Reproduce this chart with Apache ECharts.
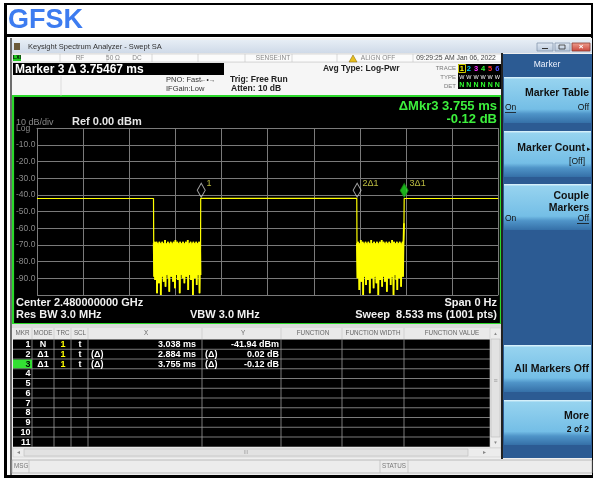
<!DOCTYPE html>
<html><head><meta charset="utf-8">
<script src="https://cdn.jsdelivr.net/npm/echarts@6/dist/echarts.min.js"></script>
<style>html,body{margin:0;padding:0;background:#fff}#c{width:594px;height:478px}</style>
</head><body><div id="c"></div>
<script>
// ---------------- data ----------------
const sweepMs = 8.533;
const yTicksDb = [0, -10, -20, -30, -40, -50, -60, -70, -80, -90, -100];
const onLevelDb = [-42.1, -42.0, -42.1];
const fallMs = [2.155, 5.915];
const riseMs = [3.028, 6.792];
const burst1Db = [
 -69,-89,-68,-91,-70,-88,-68,-99,-69,-89,-70,-93,-68,-87,-69,-100,-71,-89,-68,-88,
 -69,-92,-70,-89,-67,-95,-69,-88,-70,-87,-68,-90,-69,-98,-70,-88,-68,-89,-69,-87,
 -70,-92,-68,-89,-69,-96,-67,-88,-70,-87,-68,-91,-69,-88,-70,-99,-68,-88,-69,-87,
 -70,-90,-68,-89,-69,-93,-70,-88,-68,-89,-69,-87,-67,-97,-70,-88,-69,-88,-68,-91,
 -70,-89,-69,-100,-68,-87,-69,-90,-70,-88,-68,-94,-69,-88,-70,-87,-68,-99,-69,-88
];
const burst2Db = [
 -69,-90,-68,-88,-70,-97,-69,-89,-67,-92,-70,-87,-68,-100,-69,-89,-70,-88,-68,-94,
 -69,-88,-70,-91,-68,-89,-69,-99,-70,-87,-67,-90,-69,-89,-70,-96,-68,-89,-69,-88,
 -70,-93,-68,-89,-69,-100,-70,-88,-68,-91,-69,-88,-67,-95,-70,-89,-68,-88,-69,-92,
 -70,-87,-68,-98,-69,-89,-70,-90,-68,-88,-69,-94,-70,-89,-67,-89,-69,-100,-68,-88,
 -70,-88,-69,-91,-68,-97,-70,-89,-69,-90,-68,-88,-69,-95,-70,-88,-68,-89,-69,-57
];
const markerNames = ['1', '2', '3'];
const markerModes = ['N', 'Δ1', 'Δ1'];
const markerTrace = ['1', '1', '1'];
const markerScale = ['t', 't', 't'];
const markerXms = [3.038, 2.884, 3.755];      // marker 1 absolute, others delta to marker 1
const markerYdb = [-41.94, 0.02, -0.12];
const markerXText = ['3.038 ms', '2.884 ms', '3.755 ms'];
const markerYText = ['-41.94 dBm', '0.02 dB', '-0.12 dB'];
const markerLabels = ['1', '2Δ1', '3Δ1'];
const tableRows = ['1','2','3','4','5','6','7','8','9','10','11'];
const tableHeaders = ['MKR','MODE','TRC','SCL','X','Y','FUNCTION','FUNCTION WIDTH','FUNCTION VALUE'];

// ---------------- build trace ----------------
const trace = [];
const bursts = [[], []];
function addBurst(k, arr) {
  const s = fallMs[k] + 0.004, e = riseMs[k] - 0.004, n = arr.length;
  arr.forEach((v, i) => { const p = [s + i * (e - s) / (n - 1), v]; trace.push(p); bursts[k].push(p); });
}
trace.push([0, onLevelDb[0]], [fallMs[0], onLevelDb[0]]);
addBurst(0, burst1Db);
trace.push([riseMs[0], onLevelDb[1]], [fallMs[1], onLevelDb[1]]);
addBurst(1, burst2Db);
trace.push([riseMs[1], onLevelDb[2]], [sweepMs, onLevelDb[2]]);

const markerPts = markerXms.map((x, i) => i === 0 ? [x, markerYdb[0]] : [markerXms[0] + x, markerYdb[0] + markerYdb[i]]);

// ---------------- chrome helpers ----------------
const F = '"Liberation Sans", Arial, sans-serif';
const G = [];
function rect(x, y, w, h, fill, stroke, lw, z) {
  G.push({type: 'rect', shape: {x, y, width: w, height: h}, style: {fill: fill || 'none', stroke: stroke || null, lineWidth: lw || 0}, z: z == null ? -5 : z, silent: true});
}
function ln(x1, y1, x2, y2, stroke, lw, z) {
  G.push({type: 'line', shape: {x1, y1, x2, y2}, style: {stroke, lineWidth: lw || 1}, z: z == null ? -4 : z, silent: true});
}
function tx(x, y, str, size, fill, opt) {
  opt = opt || {};
  G.push({type: 'text', x, y, style: {text: str, font: (opt.bold ? 'bold ' : '') + size + 'px ' + F, fill, textAlign: opt.align || 'left', textVerticalAlign: 'middle'}, z: opt.z == null ? 10 : opt.z, silent: true});
}
const grad = (stops) => ({type: 'linear', x: 0, y: 0, x2: 0, y2: 1, colorStops: stops.map(s => ({offset: s[0], color: s[1]}))});

// outer frame / title
tx(8, 21, 'GFSK', 27, '#3d7cf0', {bold: true});
rect(4, 3, 589, 2, '#000');
rect(4, 3, 3, 475, '#000');
rect(4, 34, 589, 3, '#000');
rect(591, 3, 2, 475, '#000');
rect(4, 475, 589, 3, '#000');

// window
rect(10, 38, 582, 437, '#efefef');
rect(10, 38, 2, 437, '#6d6d6d');
rect(12, 40, 580, 13, grad([[0, '#e6edf5'], [1, '#cfdae8']]));
rect(14, 43, 6, 7, '#6b5a3a');
tx(28, 47, 'Keysight Spectrum Analyzer - Swept SA', 7.5, '#333');
rect(537, 43, 16, 8, grad([[0, '#e3ebf5'], [1, '#b8c7da']]), '#8797ad', 0.8);
rect(555, 43, 15, 8, grad([[0, '#e3ebf5'], [1, '#b8c7da']]), '#8797ad', 0.8);
rect(572, 43, 18, 8, grad([[0, '#f0a090'], [1, '#c8443a']]), '#8a3a30', 0.8);
ln(542, 48.5, 548, 48.5, '#333', 1, -3);
rect(559, 45, 6, 4, null, '#333', 0.8, -3);
tx(581, 47, '×', 8, '#fff', {align: 'center', bold: true});

// status row
rect(12, 54, 490, 8, '#fbfbfb', '#c4c4c4', 0.6);
[60, 107, 152, 198, 245, 292, 337, 413].forEach(x => ln(x, 54, x, 62, '#c4c4c4', 0.6));
rect(13, 55, 8, 6, '#22cc22');
tx(17, 58, 'LXI', 5, '#000', {align: 'center', bold: true});
tx(80, 58.3, 'RF', 6.5, '#888', {align: 'center'});
tx(113, 58.3, '50 Ω', 6.5, '#888', {align: 'center'});
tx(137, 58.3, 'DC', 6.5, '#888', {align: 'center'});
tx(273, 58.3, 'SENSE:INT', 6.5, '#888', {align: 'center'});
G.push({type: 'polygon', shape: {points: [[353, 55], [349, 62], [357, 62]]}, style: {fill: '#e8c020', stroke: '#806000', lineWidth: 0.5}, z: 5, silent: true});
tx(378, 58.3, 'ALIGN OFF', 6.5, '#888', {align: 'center'});
tx(456, 58.3, '09:29:25 AM Jan 06, 2022', 6.8, '#444', {align: 'center'});

// header info
rect(12, 63, 490, 33, '#f6f6f6');
rect(13, 63, 211, 12, '#000');
tx(15, 69.5, 'Marker 3 Δ 3.75467 ms', 12, '#fff', {bold: true});
ln(61, 76, 61, 96, '#cfcfcf', 0.6);
tx(166, 80, 'PNO: Fast', 7.5, '#333');
tx(200, 80, '←•→', 6.5, '#333');
tx(166, 88.5, 'IFGain:Low', 7.5, '#333');
tx(230, 79.5, 'Trig: Free Run', 8.5, '#222', {bold: true});
tx(231, 88.5, 'Atten: 10 dB', 8.5, '#222', {bold: true});
tx(323, 69, 'Avg Type: Log-Pwr', 8.5, '#222', {bold: true});
tx(456, 68, 'TRACE', 6, '#777', {align: 'right'});
tx(456, 77, 'TYPE', 6, '#777', {align: 'right'});
tx(456, 86, 'DET', 6, '#777', {align: 'right'});
rect(458, 64, 43, 25, '#000');
const traceColors = ['#ffff00', '#00d0ff', '#ff30ff', '#30ff30', '#ff3030', '#5050ff'];
rect(458.5, 64.5, 7, 8, null, '#ffff00', 0.8, 6);
traceColors.forEach((c, i) => {
  const x = 461.8 + i * 7.1;
  tx(x, 68.5, String(i + 1), 7.5, c, {align: 'center', bold: true});
  tx(x, 77, 'W', 5.5, '#fff', {align: 'center'});
  tx(x, 85.5, 'N', 7, '#30ff30', {align: 'center', bold: true});
});

// graph area
rect(13, 96, 488, 228, '#000', '#2bd82b', 2.2);
tx(497, 106.5, 'ΔMkr3 3.755 ms', 13, '#3df03d', {align: 'right', bold: true});
tx(497, 119, '-0.12 dB', 13, '#3df03d', {align: 'right', bold: true});
tx(16, 123, '10 dB/div', 9, '#8a8a8a');
tx(72, 122, 'Ref 0.00 dBm', 11, '#e6e6e6', {bold: true});
tx(16, 303.3, 'Center 2.480000000 GHz', 11, '#f0f0f0', {bold: true});
tx(497, 303.3, 'Span 0 Hz', 11, '#f0f0f0', {bold: true, align: 'right'});
tx(16, 315, 'Res BW 3.0 MHz', 11, '#f0f0f0', {bold: true});
tx(190, 315, 'VBW 3.0 MHz', 11, '#f0f0f0', {bold: true});
tx(497, 315, 'Sweep  8.533 ms (1001 pts)', 11, '#f0f0f0', {bold: true, align: 'right'});

// marker table
const colSep = [32, 54, 71, 88, 202, 281, 342, 404];
const hdrX = [22.5, 43, 63, 80, 146, 243, 313, 373, 452];
rect(12, 324, 490, 4, '#dcdcdc');
rect(13, 328, 477, 11, '#e9e9e9');
tableHeaders.forEach((h, i) => tx(hdrX[i], 333.5, h, 6.3, '#666', {align: 'center'}));
colSep.forEach(x => ln(x, 328, x, 339, '#c8c8c8', 0.7));
const rowTop = 339.5, rowH = 9.75;
rect(13, rowTop, 477, rowH * 11, '#000');
for (let k = 1; k < 11; k++) ln(13, rowTop + k * rowH, 490, rowTop + k * rowH, '#9a9a9a', 0.8);
colSep.forEach(x => ln(x, rowTop, x, rowTop + rowH * 11, '#9a9a9a', 0.8));
rect(13, rowTop + 2 * rowH + 0.5, 19, rowH - 1, '#33e033', null, 0, -3);
tableRows.forEach((r, i) => tx(30.5, rowTop + (i + 0.5) * rowH + 0.3, r, 9, i === 2 ? '#000' : '#fff', {align: 'right', bold: true}));
markerNames.forEach((m, i) => {
  const y = rowTop + (i + 0.5) * rowH + 0.3;
  tx(43, y, markerModes[i], 9, '#fff', {align: 'center', bold: true});
  tx(63, y, markerTrace[i], 9, '#ffff00', {align: 'center', bold: true});
  tx(80, y, markerScale[i], 9, '#fff', {align: 'center', bold: true});
  if (i > 0) { tx(91, y, '(Δ)', 9, '#fff', {bold: true}); tx(205, y, '(Δ)', 9, '#fff', {bold: true}); }
  tx(196, y, markerXText[i], 9, '#fff', {align: 'right', bold: true});
  tx(279, y, markerYText[i], 9, '#fff', {align: 'right', bold: true});
});
// scrollbars
rect(490, 328, 11, 120, '#ececec', '#cfcfcf', 0.6);
rect(491, 339, 9, 98, '#e2e2e2', '#bdbdbd', 0.6);
tx(495.5, 333.5, '▲', 4.5, '#888', {align: 'center'});
tx(495.5, 442.5, '▼', 4.5, '#888', {align: 'center'});
tx(495.5, 381.5, '≡', 7, '#999', {align: 'center'});
rect(13, 448, 488, 9, '#ececec', '#cfcfcf', 0.6);
rect(24, 449, 444, 7, '#e2e2e2', '#bdbdbd', 0.6);
tx(18, 452.5, '◂', 6, '#888', {align: 'center'});
tx(484, 452.5, '▸', 6, '#888', {align: 'center'});
tx(246, 452.5, 'III', 5, '#999', {align: 'center'});
// msg bar
rect(12, 460, 580, 13, '#ececec', '#a8a8a8', 0.7);
ln(29, 460, 29, 473, '#bbb', 0.7);
ln(380, 460, 380, 473, '#bbb', 0.7);
ln(408, 460, 408, 473, '#bbb', 0.7);
tx(14, 466.5, 'MSG', 6.3, '#777');
tx(382, 466.5, 'STATUS', 6.3, '#777');

// right menu
rect(501, 53, 2, 406, '#222');
rect(503, 54, 89, 404, '#2c5b93');
tx(547, 65, 'Marker', 8.5, '#f0f4ff', {align: 'center'});
const btnGrad = grad([[0, '#e6f7fd'], [0.05, '#96d3ef'], [0.7, '#74bee6'], [0.8, '#4f94c8'], [1, '#3570a8']]);
[[77, 46], [131, 46], [184, 46], [345, 47], [400, 45]].forEach(b => rect(504, b[0], 87, b[1], btnGrad));
tx(589, 93, 'Marker Table', 10.5, '#111', {align: 'right', bold: true});
tx(505, 108, 'On', 8.5, '#111');
ln(505, 112.5, 516, 112.5, '#111', 0.8, 6);
tx(589, 108, 'Off', 8.5, '#111', {align: 'right'});
tx(585, 148, 'Marker Count', 10.5, '#111', {align: 'right', bold: true});
tx(589, 149, '▸', 7, '#111', {align: 'center'});
tx(585, 162, '[Off]', 8.5, '#111', {align: 'right'});
tx(589, 196, 'Couple', 10.5, '#111', {align: 'right', bold: true});
tx(589, 208, 'Markers', 10.5, '#111', {align: 'right', bold: true});
tx(505, 219, 'On', 8.5, '#111');
tx(589, 219, 'Off', 8.5, '#111', {align: 'right'});
ln(577, 223.5, 589, 223.5, '#111', 0.8, 6);
tx(589, 369, 'All Markers Off', 10.5, '#111', {align: 'right', bold: true});
tx(589, 416, 'More', 10.5, '#111', {align: 'right', bold: true});
tx(589, 430, '2 of 2', 8.5, '#111', {align: 'right', bold: true});

// ---------------- chart ----------------
const chart = echarts.init(document.getElementById('c'), null, {renderer: 'canvas'});
const gridCol = '#7a7a7a';
const burstSeries = bursts.map(b => ({type: 'line', data: b, showSymbol: false, symbol: 'none', lineStyle: {color: '#ffff00', width: 1.8}, z: 3, silent: true}));
chart.setOption({
  backgroundColor: '#fff',
  animation: false,
  graphic: {elements: G},
  grid: {left: 37, top: 128.3, width: 461.3, height: 166.7, containLabel: false},
  xAxis: {
    type: 'value', min: 0, max: sweepMs, interval: sweepMs / 10,
    axisLabel: {show: false}, axisTick: {show: false},
    axisLine: {show: true, lineStyle: {color: gridCol, width: 1}},
    splitLine: {show: true, showMinLine: true, showMaxLine: true, lineStyle: {color: gridCol, width: 1}}
  },
  yAxis: {
    type: 'value', min: yTicksDb[yTicksDb.length - 1], max: yTicksDb[0], interval: 10,
    axisTick: {show: false},
    axisLine: {show: true, lineStyle: {color: gridCol, width: 1}},
    splitLine: {show: true, showMinLine: true, showMaxLine: true, lineStyle: {color: gridCol, width: 1}},
    axisLabel: {
      show: true, align: 'left', margin: 21, color: '#8a8a8a', fontSize: 8.5, fontFamily: F,
      formatter: v => v === 0 ? 'Log' : (v === -100 ? '' : v.toFixed(1))
    }
  },
  series: [
    {type: 'line', data: trace, showSymbol: false, symbol: 'none', lineStyle: {color: '#ffff00', width: 1.2}, itemStyle: {color: '#ffff00'}, z: 3, silent: true},
    ...burstSeries,
    {
      type: 'scatter', z: 6, silent: true,
      symbol: 'diamond', symbolSize: [8, 14], symbolOffset: [0, -8],
      label: {show: true, position: 'right', distance: 1, offset: [0, -7], color: '#e6e650', fontSize: 9, fontFamily: F},
      data: markerPts.map((p, i) => ({
        value: p,
        label: {formatter: markerLabels[i]},
        itemStyle: i === 2 ? {color: '#22dd22', borderColor: '#118811', borderWidth: 1} : {color: 'rgba(0,0,0,0)', borderColor: '#cccccc', borderWidth: 1}
      }))
    }
  ]
});
</script></body></html>
